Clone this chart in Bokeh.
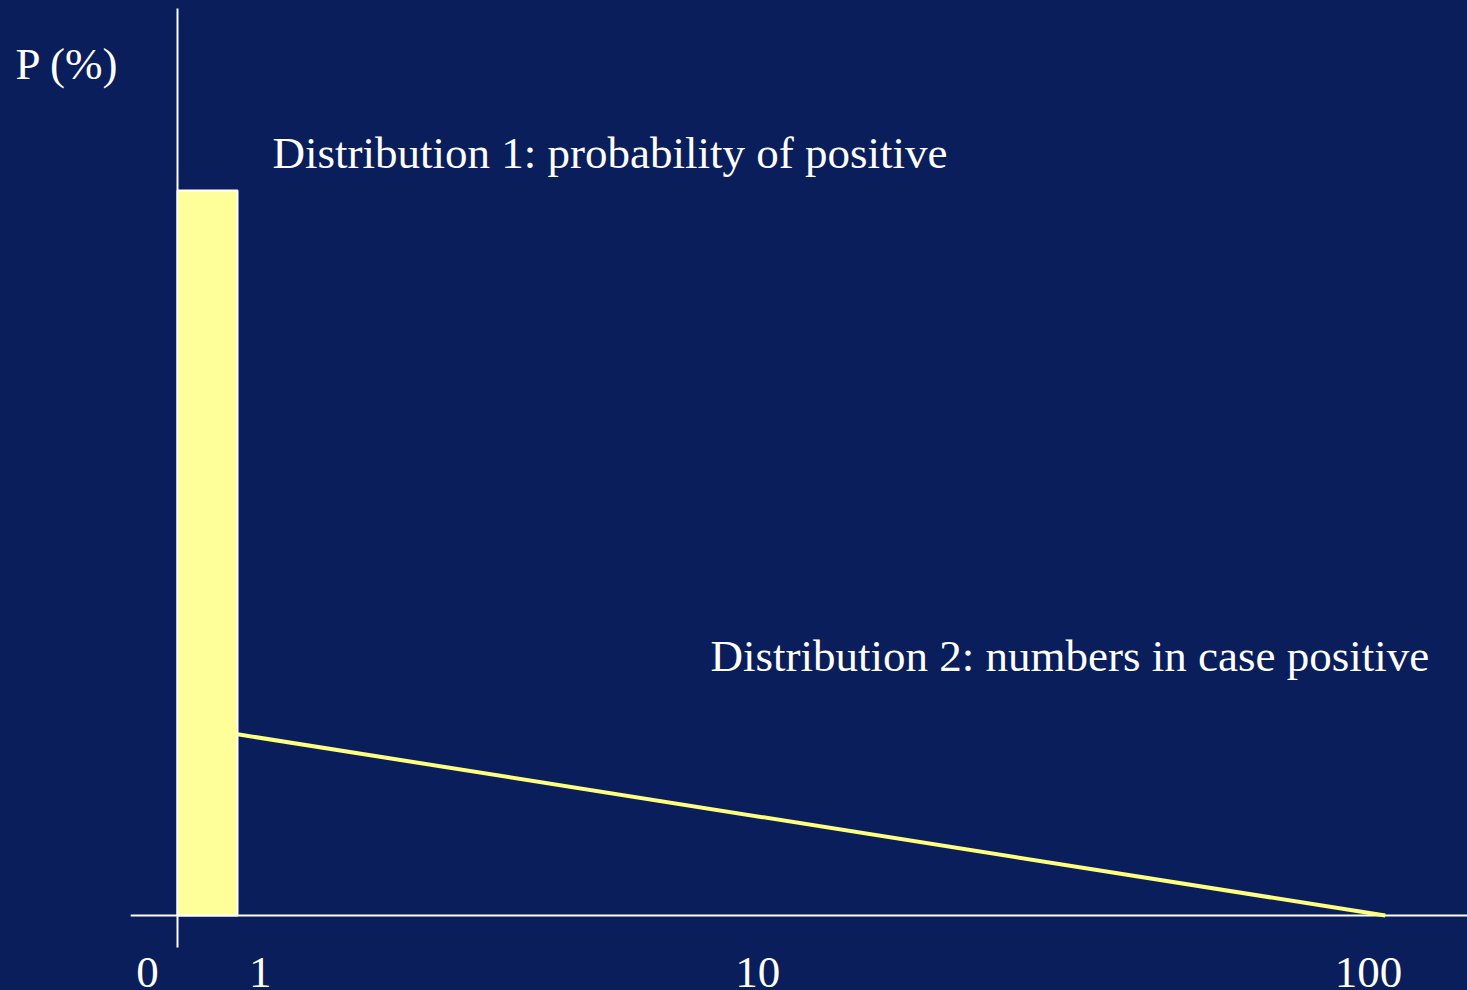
from bokeh.plotting import figure
from bokeh.models import Range1d, ColumnDataSource
from bokeh.core.properties import value
from bokeh.embed import file_html
from bokeh.resources import INLINE

# ---- data (schematic units: bar width = 1, P in %) ----
bar_left = [0.0]
bar_right = [1.0]
bar_bottom = [0.0]
bar_top = [100.0]

dist2_x = [1.0, 20.13]
dist2_y = [25.0, 0.0]

tick_labels = ["0", "1", "10", "100"]
tick_x = [-0.5, 1.38, 9.67, 19.85]

title1 = "Distribution 1: probability of positive"
title2 = "Distribution 2: numbers in case positive"
ylabel = "P (%)"

BG = "#0a1e5b"
FONT = value("Liberation Serif")
FS = "45px"

p = figure(width=1467, height=990, output_backend="svg", toolbar_location=None,
           x_range=Range1d(-2.95, 21.5), y_range=Range1d(-10.34, 126.2),
           min_border=0, min_border_left=0, min_border_right=0,
           min_border_top=0, min_border_bottom=0)
p.axis.visible = False
p.grid.visible = False
p.outline_line_color = None
p.background_fill_color = BG
p.border_fill_color = BG
p.styles = {"background-color": BG}

# axes
p.segment(x0=[0], y0=[-4.4], x1=[0], y1=[125.1], line_color="white", line_width=2)
p.segment(x0=[-0.78], y0=[0], x1=[21.5], y1=[0], line_color="white", line_width=2)

# distribution 1 bar
p.quad(left=bar_left, right=bar_right, bottom=bar_bottom, top=bar_top,
       fill_color="#ffff99", line_color="white", line_width=2)

# distribution 2 line
p.line(dist2_x, dist2_y, line_color="#ffff80", line_width=4)

# tick labels
src = ColumnDataSource(dict(x=tick_x, y=[-7.9] * len(tick_x), t=tick_labels))
p.text(x="x", y="y", text="t", source=src, text_font=FONT, text_font_size=FS,
       text_color="white", text_align="center", text_baseline="alphabetic")

# annotations
p.text(x=[1.583], y=[105.2], text=[title1], text_font=FONT, text_font_size=FS,
       text_color="white", text_align="left", text_baseline="alphabetic")
p.text(x=[8.883], y=[35.8], text=[title2], text_font=FONT, text_font_size=FS,
       text_color="white", text_align="left", text_baseline="alphabetic")
p.text(x=[-2.7], y=[117.5], text=[ylabel], text_font=FONT, text_font_size=FS,
       text_color="white", text_align="left", text_baseline="alphabetic")

open("out.html", "w").write(file_html(p, INLINE))
